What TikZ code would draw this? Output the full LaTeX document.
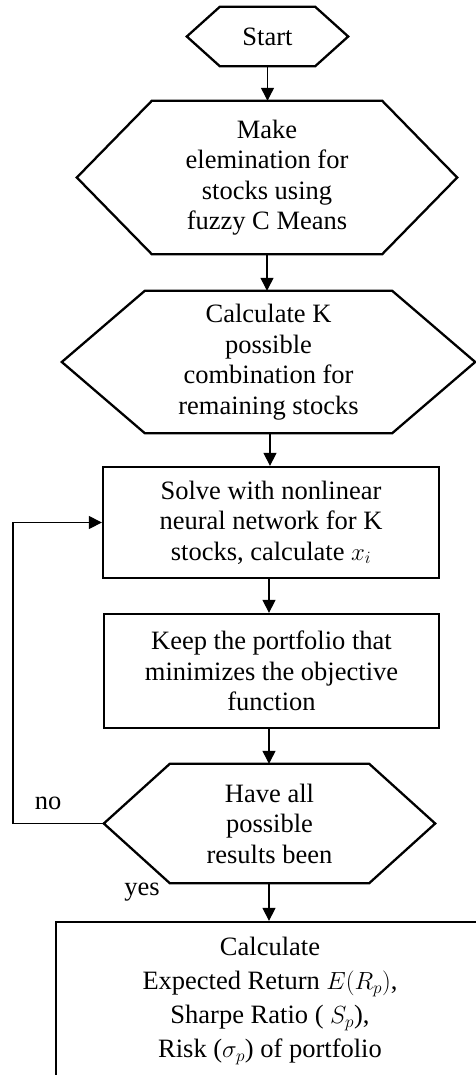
\documentclass[tikz,border=0pt]{standalone}
\usepackage{fontspec}
\setmainfont{Liberation Serif}
\usetikzlibrary{arrows.meta,calc}

\tikzset{
  txt/.style={align=center, inner sep=0pt, font=\fontsize{26.5bp}{30.5bp}\selectfont},
  hexnode/.style={txt, draw=none, minimum width=#1},
  boxnode/.style={txt, draw, line width=2.3bp, minimum width=#1},
  lbl/.style={inner sep=0pt, font=\fontsize{26.5bp}{30.5bp}\selectfont},
  shapeline/.style={line width=2.3bp, line join=miter},
  arr/.style={line width=1.2bp, -{Triangle[width=13bp,length=13bp]}}
}

% hexagon outline around a named node: #1 node name, #2 horizontal inset of the slanted sides
\newcommand\hexoutline[2]{%
  \draw[shapeline] (#1.west) -- ([xshift=#2]#1.north west) -- ([xshift=-#2]#1.north east)
    -- (#1.east) -- ([xshift=-#2]#1.south east) -- ([xshift=#2]#1.south west) -- cycle;}

\begin{document}
\begin{tikzpicture}[x=1bp,y=-1bp]
  \useasboundingbox (0,0) rectangle (476,1075);
  \clip (0,0) rectangle (476,1075);

  % process steps
  \node[hexnode=161bp, minimum height=59bp] (start) at (267.5,36.5) {Start};
  \node[hexnode=380bp, minimum height=153bp] (elim) at (267,177.5)
    {Make\\elemination for\\stocks using\\fuzzy C Means};
  \node[hexnode=413bp, minimum height=142bp] (comb) at (268.5,362)
    {Calculate K\\possible\\combination for\\remaining stocks};
  \node[boxnode=336bp, minimum height=111bp] (solve) at (271,522.5)
    {Solve with nonlinear\\neural network for K\\stocks, calculate $x_i$};
  \node[boxnode=335bp, minimum height=114bp] (keep) at (271.5,671)
    {Keep the portfolio that\\minimizes the objective\\function};
  \node[hexnode=331bp, minimum height=119bp] (check) at (269.5,823.5)
    {Have all\\possible\\results been};
  \node[boxnode=428bp, minimum height=158bp, font=\fontsize{26.5bp}{34bp}\selectfont] (result) at (270,1001)
    {Calculate\\Expected Return $E(R_p)$,\\Sharpe Ratio ( $S_p$),\\Risk ($\sigma_p$) of portfolio};

  \hexoutline{start}{33bp}
  \hexoutline{elim}{75bp}
  \hexoutline{comb}{83bp}
  \hexoutline{check}{66bp}

  % connectors
  \draw[arr] (start.south) -- (start.south |- elim.north);
  \draw[arr] (elim.south) -- (elim.south |- comb.north);
  \draw[arr] ([xshift=1.5bp]comb.south) -- ([xshift=1.5bp]comb.south |- solve.north);
  \draw[arr] ([xshift=-2bp]solve.south) -- ([xshift=-2bp]solve.south |- keep.north);
  \draw[arr] ([xshift=-2.5bp]keep.south) -- ([xshift=-2.5bp]keep.south |- check.north);
  \draw[arr] ([xshift=-0.5bp]check.south) -- ([xshift=-0.5bp]check.south |- result.north);

  % loop back when not all results are done
  \coordinate (loopx) at (13,0);
  \draw[arr] (check.west) -- (check.west -| loopx) |- (solve.west);

  \node[lbl] (lblno) at (48,803) {no};
  \node[lbl] (lblyes) at (142,892) {yes};
\end{tikzpicture}
\end{document}
